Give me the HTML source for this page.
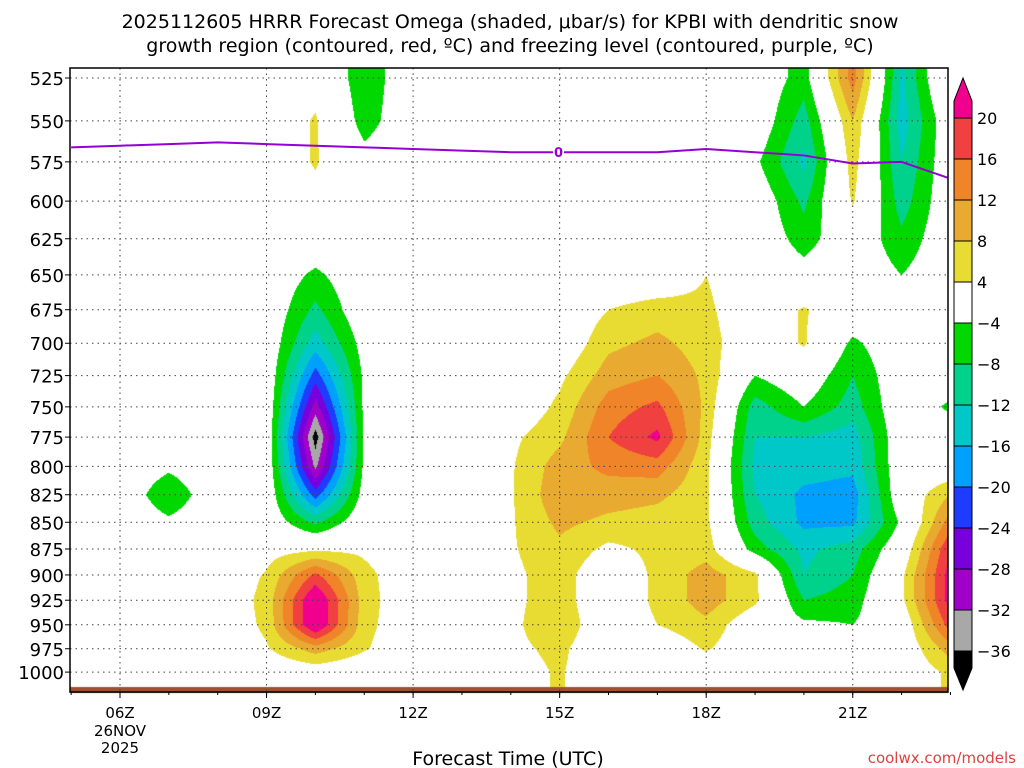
<!DOCTYPE html>
<html><head><meta charset="utf-8">
<style>
body{margin:0;background:#fff;width:1024px;height:768px;overflow:hidden;font-family:"DejaVu Sans","Liberation Sans",sans-serif;}
#c{position:absolute;left:0;top:0}
svg{position:absolute;left:0;top:0}
</style></head><body>
<canvas id="c" width="1024" height="768"></canvas>
<svg id="s" width="1024" height="768">
<text x="510" y="28" text-anchor="middle" font-size="19" fill="#000">2025112605 HRRR Forecast Omega (shaded, μbar/s) for KPBI with dendritic snow</text>
<text x="510" y="52" text-anchor="middle" font-size="19" fill="#000">growth region (contoured, red, ºC) and freezing level (contoured, purple, ºC)</text>
<text x="508" y="765" text-anchor="middle" font-size="19" fill="#000">Forecast Time (UTC)</text>
<text x="1016" y="763" text-anchor="end" font-size="15" fill="#e04040">coolwx.com/models</text>
</svg>
<script>
const hours=[5,6,7,8,9,10,11,12,13,14,15,16,17,18,19,20,21,22,23];
const levels=[525,550,575,600,625,650,675,700,725,750,775,800,825,850,875,900,925,950,975,1000];
// omega per hour column, listed top (525) to bottom (1000)
const omega=[
[0,0,0,0,0,0,0,0,0,0,0,0,0,0,0,0,0,0,0,0],
[0,0,0,0,0,0,0,0,0,0,0,0,0,0,0,0,0,0,0,0],
[0,0,0,0,0,0,0,0,0,0,0,-3,-7.5,-3,0,0,0,0,0,0],
[0,0,0,0,0,0,0,0,0,0,0,0,0,0,0,0,0,0,0,0],
[0,0,0,0,0,0,0,0,0,0,0,0,0,0,2,4.5,5.5,5,3.5,0],
[2,4.5,4.5,2,0,-5,-9,-14,-22,-30,-38,-33,-22,-9,3,17,25,25,10,1],
[-7,-6,-2,0,0,0,0,-2,-3,-3,-3,-3,-2,0,3,5.5,6,5.5,4.5,0],
[0,0,0,0,0,0,0,0,0,0,0,0,0,0,0,0,0,0,0,0],
[0,0,0,0,0,0,0,0,0,0,0,0,0,0,0,0,0,0,0,0],
[0,0,0,0,0,0,0,0,0,0,3,3.5,3.5,3.5,3.5,3,3,3,3,2],
[0,0,0,0,0,0,0,0,3,5,7,10,11,9,7,6,6,7,5,4.5],
[0,0,0,0,0,0,4,7,10,14,16,13,10,7,3,0,0,0,0,0],
[0,0,0,0,0,0,6,9,12,17,21,14,9,6,5,5,5,4,0,0],
[0,0,0,0,0,4,5,6,7,7,6,5,5,5,6,10,10,7,4.5,0],
[0,0,-3,0,0,0,0,0,-4,-10,-12,-13,-12,-10,-6,5,5,0,0,0],
[-6,-10,-13,-9,-6,-2,4.5,4.5,0,-4,-12,-14,-17,-17,-13,-12,-8,-3,0,0],
[14,8,6,4.5,0,0,0,-5,-8,-10,-14,-15,-18,-17,-10,-8,-6,-4,0,0],
[-13,-14,-12,-10,-7,-4,0,0,0,0,0,0,0,-3,0,3,3,0,0,0],
[4,0,0,0,0,0,0,0,0,-5,0,0,8,14,20,22,22,18,10,5]];
const frzP=[566,565,564,563,564,565,566,567,568,569,569,569,569,567,569,571,576,575,585];
const cbLabels=[20,16,12,8,4,-4,-8,-12,-16,-20,-24,-28,-32,-36];
const yTicks=[525,550,575,600,625,650,675,700,725,750,775,800,825,850,875,900,925,950,975,1000];
const xTicks=[6,9,12,15,18,21];const xLab=['06Z','09Z','12Z','15Z','18Z','21Z'];

const L=70,R=948,T=68,B=692;
const xs=h=>120+(h-6)*48.85;
const inv=x=>6+(x-120)/48.85;
const ys=p=>78+(Math.log(p)-Math.log(525))*922;
const invy=y=>Math.exp(Math.log(525)+(y-78)/922);
const cols=['#000000','#a8a8a8','#a000c8','#7800dc','#1e3cff','#00a0ff','#00c8c8','#00d28c','#00d800','#ffffff','#e8dc32','#e8aa30','#f08428','#f04040','#f0008c'];
const edges=[-36,-32,-28,-24,-20,-16,-12,-8,-4,4,8,12,16,20];
function colorOf(v){let i=0;while(i<edges.length&&v>=edges[i])i++;return cols[i];}
function val(h,p){
 let fi=Math.max(0,Math.min(hours.length-1.0001,h-hours[0]));
 let fj=Math.max(0,Math.min(levels.length-1.0001,(p-525)/25));
 const i=Math.floor(fi),j=Math.floor(fj),a=fi-i,b=fj-j;
 return omega[i][j]*(1-a)*(1-b)+omega[i+1][j]*a*(1-b)+omega[i][j+1]*(1-a)*b+omega[i+1][j+1]*a*b;}
const ctx=document.getElementById('c').getContext('2d');
ctx.fillStyle='#fff';ctx.fillRect(0,0,1024,768);
for(let x=L;x<R;x++){const h=inv(x+0.5);for(let y=T;y<B;y++){const c=colorOf(val(h,invy(y+0.5)));if(c!=='#ffffff'){ctx.fillStyle=c;ctx.fillRect(x,y,1,1);}}}
// ground
ctx.fillStyle='#a0522d';ctx.fillRect(L,687,R-L,6);

const s=document.getElementById('s');const NS='http://www.w3.org/2000/svg';
function el(t,a){const e=document.createElementNS(NS,t);for(const k in a)e.setAttribute(k,a[k]);s.appendChild(e);return e;}
yTicks.forEach(p=>{const y=ys(p);
 const g=el('line',{x1:L,x2:R,y1:y,y2:y,stroke:'#444','stroke-width':1,'stroke-dasharray':'1.5,4'});
 
 const tk=el('line',{x1:L-5,x2:L,y1:y,y2:y,stroke:'#000'});
 
 const t=el('text',{x:L-6,y:y+7,'text-anchor':'end','font-size':18});t.textContent=p;
 });
xTicks.forEach((h,i)=>{const x=xs(h);
 const g=el('line',{x1:x,x2:x,y1:T,y2:B,stroke:'#444','stroke-width':1,'stroke-dasharray':'1.5,4'});
 
 const tk=el('line',{x1:x,x2:x,y1:B,y2:B+6,stroke:'#000'});
 
 const t=el('text',{x:x,y:718,'text-anchor':'middle','font-size':15});t.textContent=xLab[i];
 });
[['26NOV',736],['2025',753]].forEach(d=>{const t=el('text',{x:120,y:d[1],'text-anchor':'middle','font-size':15});t.textContent=d[0];
 });
for(let h=5;h<=23;h++){const tk=el('line',{x1:xs(h),x2:xs(h),y1:B,y2:B+3,stroke:'#000'});
 }
// freezing line
let d='';hours.forEach((h,i)=>{d+=(i?'L':'M')+Math.max(L,Math.min(R,xs(h)))+','+ys(frzP[i]);});
const fl=el('path',{d:d,fill:'none',stroke:'#9400d3','stroke-width':2});

const fr=el('rect',{x:553,y:ys(569)-7,width:11,height:14,fill:'#fff'});

const ft=el('text',{x:558.5,y:ys(569)+5,'text-anchor':'middle','font-size':13,'font-weight':'bold',fill:'#9400d3'});ft.textContent='0';

const fr2=el('rect',{x:L,y:T,width:R-L,height:B-T,fill:'none',stroke:'#000','stroke-width':1.5});

// colorbar
const cx0=954,cx1=972,cTop=118,bh=41;
const barCols=['#f04040','#f08428','#e8aa30','#e8dc32','#ffffff','#00d800','#00d28c','#00c8c8','#00a0ff','#1e3cff','#7800dc','#a000c8','#a8a8a8'];
const up=el('polygon',{points:`${cx0},${cTop} ${cx1},${cTop} ${cx1},101 ${(cx0+cx1)/2},78 ${cx0},101`,fill:'#f0008c',stroke:'#000'});

barCols.forEach((c,i)=>{const r=el('rect',{x:cx0,y:cTop+i*bh,width:cx1-cx0,height:bh,fill:c,stroke:'#000'});
 });
const bot=cTop+barCols.length*bh;
const dn=el('polygon',{points:`${cx0},${bot} ${cx1},${bot} ${cx1},668 ${(cx0+cx1)/2},690 ${cx0},668`,fill:'#000',stroke:'#000'});

cbLabels.forEach((v,i)=>{const t=el('text',{x:977,y:cTop+i*bh+6,'font-size':16});t.textContent=v<0?'\u2212'+(-v):v;
 });
</script>
</body></html>
